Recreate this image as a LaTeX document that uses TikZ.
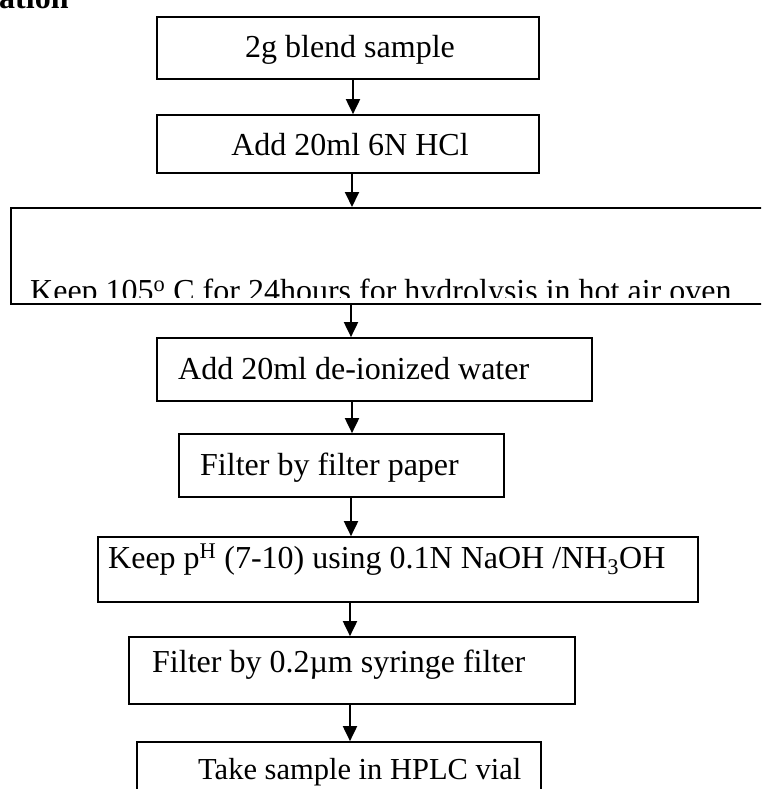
\documentclass[tikz,border=0pt]{standalone}
\usepackage{fontspec}
\setmainfont{Liberation Serif}
\usetikzlibrary{arrows.meta}
\tikzset{
  stepbox/.style={draw, line width=1.7pt, inner sep=0pt, rectangle},
  txt/.style={inner sep=0pt, font=\fontsize{32}{38}\selectfont},
  arr/.style={line width=1.9pt, -{Triangle[length=15pt,width=14pt]}},
}
\begin{document}
\begin{tikzpicture}[x=1pt,y=-1pt]
\useasboundingbox (0,0) rectangle (761,789);
\clip (0,0) rectangle (761,789);
% heading (cut off)
\node[txt, font=\fontsize{32}{38}\selectfont\bfseries, anchor=base west] (head) at (-1,9) {ation};
% boxes
\node[stepbox, minimum width=382pt, minimum height=62pt] (b1) at (348,48) {};
\node[stepbox, minimum width=382pt, minimum height=58pt] (b2) at (348,144) {};
\node[stepbox, line width=2pt, minimum width=789pt, minimum height=96pt] (b3) at (405.5,256) {};
\node[stepbox, minimum width=435pt, minimum height=63pt] (b4) at (374.5,369.5) {};
\node[stepbox, minimum width=325pt, minimum height=63pt] (b5) at (341.5,465.5) {};
\node[stepbox, minimum width=600pt, minimum height=65pt] (b6) at (398,569.5) {};
\node[stepbox, minimum width=446pt, minimum height=67pt] (b7) at (352,670.5) {};
\node[stepbox, minimum width=404pt, minimum height=88pt] (b8) at (339,786) {};
% texts
\node[txt, anchor=base] (t1) at (350,58) {2g blend sample};
\node[txt, anchor=base] (t2) at (350,155) {Add 20ml 6N HCl};
\begin{scope}
  \clip (0,208) rectangle (761,297);
  \node[txt, anchor=base west] (t3) at (30,301) {Keep 105\textsuperscript{o} C for 24hours for hydrolysis in hot air oven};
\end{scope}
\node[txt, anchor=base west] (t4) at (178,379) {Add 20ml de-ionized water};
\node[txt, anchor=base west] (t5) at (200,475) {Filter by filter paper};
\node[txt, anchor=base west] (t6) at (108,568) {Keep p\textsuperscript{H} (7-10) using 0.1N NaOH /NH\textsubscript{3}OH};
\node[txt, anchor=base west] (t7) at (152,672) {Filter by 0.2µm syringe filter};
\node[txt, font=\fontsize{30.5}{36}\selectfont, anchor=base west] (t8) at (198,779) {Take sample in HPLC vial};
% arrow columns
\coordinate (a1) at (353,0);
\coordinate (a2) at (352,0);
\coordinate (a3) at (351,0);
\coordinate (a4) at (352,0);
\coordinate (a5) at (351,0);
\coordinate (a6) at (350,0);
\coordinate (a7) at (350,0);
% connectors
\draw[arr] (b1.south -| a1) -- (b2.north -| a1);
\draw[arr] (b2.south -| a2) -- (b3.north -| a2);
\draw[arr] (b3.south -| a3) -- (b4.north -| a3);
\draw[arr] (b4.south -| a4) -- (b5.north -| a4);
\draw[arr] (b5.south -| a5) -- (b6.north -| a5);
\draw[arr] (b6.south -| a6) -- (b7.north -| a6);
\draw[arr] (b7.south -| a7) -- (b8.north -| a7);
\end{tikzpicture}
\end{document}
